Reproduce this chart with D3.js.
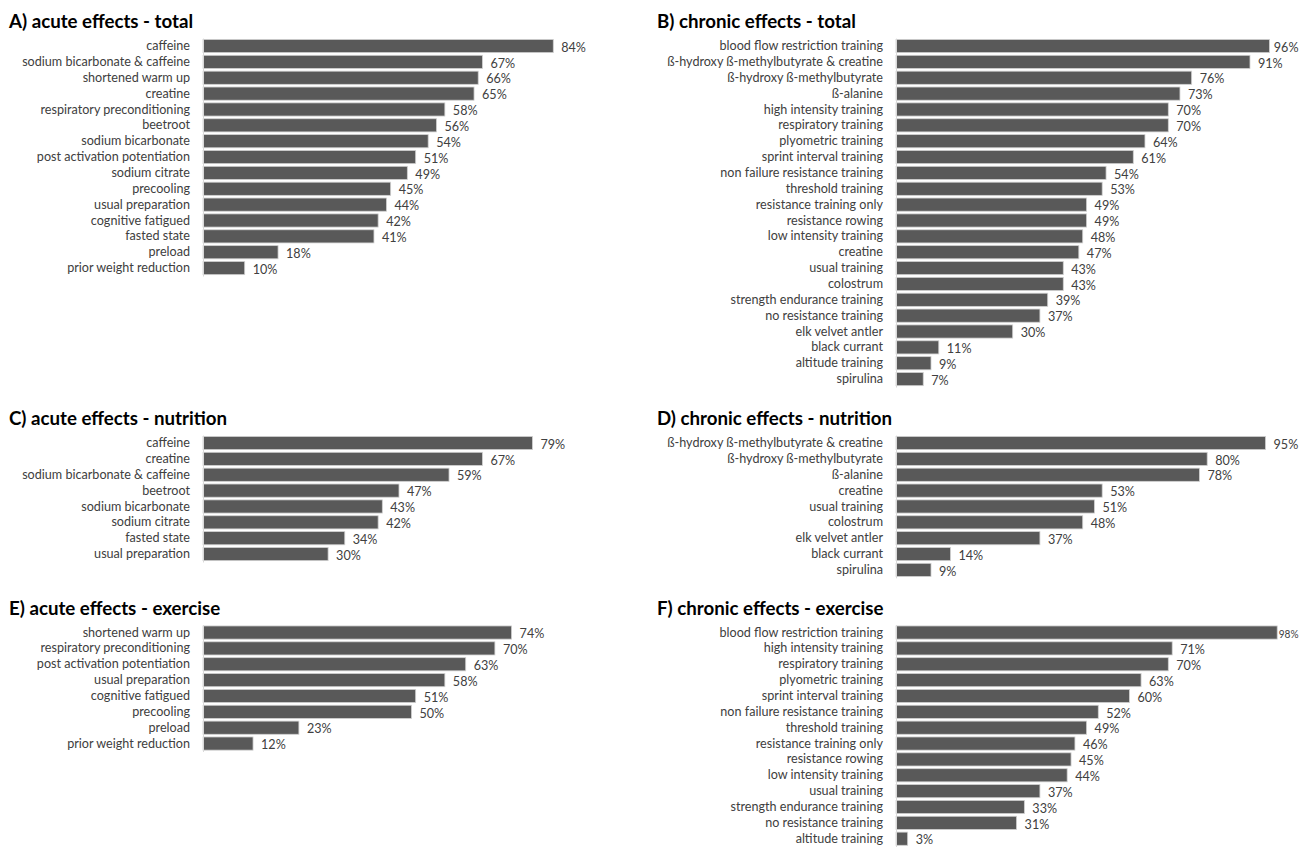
<!DOCTYPE html>
<html>
<head>
<meta charset="utf-8">
<script src="https://cdn.jsdelivr.net/npm/d3@7"></script>
<style>
  html, body { margin: 0; padding: 0; background: #fff; }
  svg { display: block; }
  .title { font-family: Lato, "Open Sans", sans-serif; font-weight: 700; font-size: 18.7px; fill: #000; }
  .cat { font-family: Lato, "Open Sans", sans-serif; font-size: 12.6px; fill: #404040; }
  .val { font-family: Lato, "Open Sans", sans-serif; font-size: 12.6px; fill: #404040; }
</style>
</head>
<body>
<svg id="chart" width="1301" height="847"></svg>
<script>
// Panel titles
const titleA = "A) acute effects - total";
const titleB = "B) chronic effects - total";
const titleC = "C) acute effects - nutrition";
const titleD = "D) chronic effects - nutrition";
const titleE = "E) acute effects - exercise";
const titleF = "F) chronic effects - exercise";

// A) acute effects - total
const catsA = ["caffeine", "sodium bicarbonate & caffeine", "shortened warm up", "creatine",
  "respiratory preconditioning", "beetroot", "sodium bicarbonate", "post activation potentiation",
  "sodium citrate", "precooling", "usual preparation", "cognitive fatigued", "fasted state",
  "preload", "prior weight reduction"];
const valsA = [84, 67, 66, 65, 58, 56, 54, 51, 49, 45, 44, 42, 41, 18, 10];

// B) chronic effects - total
const catsB = ["blood flow restriction training", "ß-hydroxy ß-methylbutyrate & creatine",
  "ß-hydroxy ß-methylbutyrate", "ß-alanine", "high intensity training", "respiratory training",
  "plyometric training", "sprint interval training", "non failure resistance training",
  "threshold training", "resistance training only", "resistance rowing", "low intensity training",
  "creatine", "usual training", "colostrum", "strength endurance training", "no resistance training",
  "elk velvet antler", "black currant", "altitude training", "spirulina"];
const valsB = [96, 91, 76, 73, 70, 70, 64, 61, 54, 53, 49, 49, 48, 47, 43, 43, 39, 37, 30, 11, 9, 7];

// C) acute effects - nutrition
const catsC = ["caffeine", "creatine", "sodium bicarbonate & caffeine", "beetroot",
  "sodium bicarbonate", "sodium citrate", "fasted state", "usual preparation"];
const valsC = [79, 67, 59, 47, 43, 42, 34, 30];

// D) chronic effects - nutrition
const catsD = ["ß-hydroxy ß-methylbutyrate & creatine", "ß-hydroxy ß-methylbutyrate", "ß-alanine",
  "creatine", "usual training", "colostrum", "elk velvet antler", "black currant", "spirulina"];
const valsD = [95, 80, 78, 53, 51, 48, 37, 14, 9];

// E) acute effects - exercise
const catsE = ["shortened warm up", "respiratory preconditioning", "post activation potentiation",
  "usual preparation", "cognitive fatigued", "precooling", "preload", "prior weight reduction"];
const valsE = [74, 70, 63, 58, 51, 50, 23, 12];

// F) chronic effects - exercise
const catsF = ["blood flow restriction training", "high intensity training", "respiratory training",
  "plyometric training", "sprint interval training", "non failure resistance training",
  "threshold training", "resistance training only", "resistance rowing", "low intensity training",
  "usual training", "strength endurance training", "no resistance training", "altitude training"];
const valsF = [98, 71, 70, 63, 60, 52, 49, 46, 45, 44, 37, 33, 31, 3];

const W = 1301;
const svg = d3.select("#chart");
const ROW = 15.86;

// Layout of the two columns and three rows of panels
const cols = [
  { titleX: 9, axisX: 203, fullX: 620 },
  { titleX: 657, axisX: 896, fullX: 1285 }
];
const rowsY = [
  { titleY: 28, top: 38.1 },
  { titleY: 425, top: 435.1 },
  { titleY: 615, top: 624.6 }
];

const panels = [
  { title: titleA, cats: catsA, vals: valsA, col: 0, row: 0 },
  { title: titleB, cats: catsB, vals: valsB, col: 1, row: 0 },
  { title: titleC, cats: catsC, vals: valsC, col: 0, row: 1 },
  { title: titleD, cats: catsD, vals: valsD, col: 1, row: 1 },
  { title: titleE, cats: catsE, vals: valsE, col: 0, row: 2 },
  { title: titleF, cats: catsF, vals: valsF, col: 1, row: 2 }
];

panels.forEach(p => {
  const c = cols[p.col], r = rowsY[p.row];
  const g = svg.append("g");

  const x = d3.scaleLinear().domain([0, 100]).range([c.axisX, c.fullX]);
  const y = d3.scaleBand()
    .domain(p.cats)
    .range([r.top, r.top + p.cats.length * ROW])
    .paddingInner(0.17)
    .paddingOuter(0.085);

  g.append("text").attr("class", "title")
    .attr("x", c.titleX).attr("y", r.titleY)
    .text(p.title);

  const data = p.cats.map((k, i) => ({ k, v: p.vals[i] }));

  g.selectAll("rect").data(data).join("rect")
    .attr("x", c.axisX)
    .attr("y", d => y(d.k))
    .attr("width", d => x(d.v) - c.axisX)
    .attr("height", y.bandwidth())
    .attr("fill", "#595959")
    .attr("stroke", "#d0d0d0")
    .attr("stroke-width", 0.8);

  // category axis on the left
  const axis = d3.axisLeft(y).tickSize(0).tickPadding(13);
  const ax = g.append("g").attr("transform", `translate(${c.axisX},0)`).call(axis);
  ax.select(".domain").attr("stroke", "#d9d9d9").attr("stroke-width", 1);
  ax.selectAll("text").attr("class", "cat").attr("font-family", null).attr("font-size", null).attr("fill", null);

  // percentage labels; near the right edge a label slides in towards its bar,
  // and is set a little smaller if it still does not fit
  g.selectAll("text.val").data(data).join("text")
    .attr("class", "val")
    .attr("y", d => y(d.k) + y.bandwidth() / 2)
    .attr("dy", "0.45em")
    .text(d => d.v + "%")
    .each(function (d) {
      const t = d3.select(this);
      const w = this.getComputedTextLength();
      const limit = W - 2.5;
      let tx = x(d.v) + 8;
      if (tx + w > limit) {
        tx = Math.max(x(d.v) + 1.5, limit - w);
        if (tx + w > limit) {
          const fs = Math.max(11.2, 12.6 * (limit - tx) / w);
          t.style("font-size", fs + "px");
          if (this.getComputedTextLength() > limit - tx) {
            t.attr("textLength", limit - tx).attr("lengthAdjust", "spacingAndGlyphs");
          }
        }
      }
      t.attr("x", tx);
    });
});
</script>
</body>
</html>
